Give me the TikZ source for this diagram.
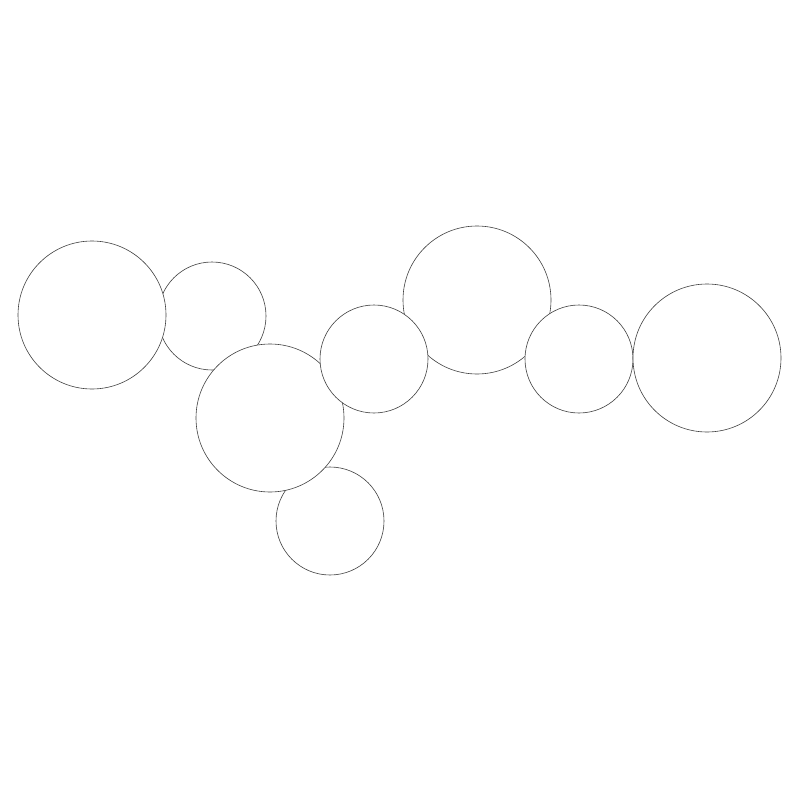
\documentclass[tikz,border=0pt]{standalone}
\begin{document}
\begin{tikzpicture}[x=1pt,y=-1pt,
  big/.style={circle,draw=black!75,fill=white,line width=0.6pt,minimum size=148pt,inner sep=0pt},
  small/.style={circle,draw=black!75,fill=white,line width=0.6pt,minimum size=108pt,inner sep=0pt}]
\useasboundingbox (0,0) rectangle (800,800);
\node[small] (c2) at (212,316) {};
\node[big] (c1) at (92,315) {};
\node[small] (c4) at (330,521) {};
\node[big] (c3) at (270,418) {};
\node[big] (c6) at (477,300) {};
\node[small] (c5) at (374,359) {};
\node[small] (c7) at (579,359) {};
\node[big] (c8) at (707,358) {};
\end{tikzpicture}
\end{document}
